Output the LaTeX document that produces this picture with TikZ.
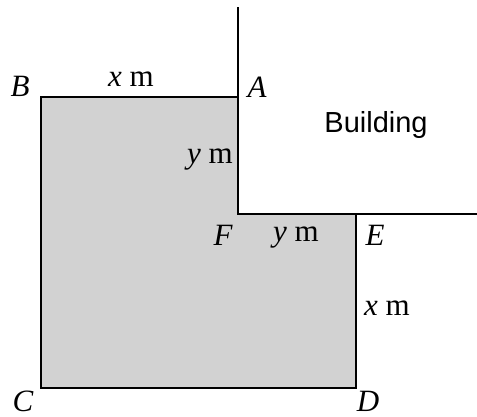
\documentclass[tikz,border=0pt]{standalone}
\usepackage{fontspec}
\setmainfont{Liberation Serif}
\newfontfamily\bsans{Liberation Sans}
\begin{document}
\begin{tikzpicture}[x=1pt,y=-1pt,
  edge/.style={line width=2.8pt},
  lab/.style={font=\fontsize{31}{34}\selectfont\itshape, inner sep=0pt},
  dim/.style={font=\fontsize{31}{34}\selectfont, inner sep=0pt}]
\useasboundingbox (0,0) rectangle (477,416);
\coordinate (B) at (41,97);
\coordinate (A) at (238,97);
\coordinate (F) at (238,214);
\coordinate (E) at (356,214);
\coordinate (D) at (356,388);
\coordinate (C) at (41,388);
\coordinate (T) at (238,7);
\coordinate (R) at (477,214);
\fill[gray!35] (B) -- (A) -- (F) -- (E) -- (D) -- (C) -- cycle;
\draw[edge] (T) -- (F) -- (R);
\draw[edge] (A) -- (B) -- (C) -- (D) -- (E);
\node[lab] (lB) at (20,86) {B};
\node[lab] (lA) at (257,87) {A};
\node[lab] (lF) at (223,235) {F};
\node[lab] (lE) at (375,235) {E};
\node[lab] (lC) at (23,401) {C};
\node[lab] (lD) at (368,401) {D};
\node[dim] (x1) at (131,79) {\textit{x} m};
\node[dim] (y1) at (210,160) {\textit{y} m};
\node[dim] (y2) at (296,238) {\textit{y} m};
\node[dim] (x2) at (387,308) {\textit{x} m};
\node[font=\bsans\fontsize{29}{32}\selectfont, inner sep=0pt] (bld) at (376,125) {Building};
\end{tikzpicture}
\end{document}
